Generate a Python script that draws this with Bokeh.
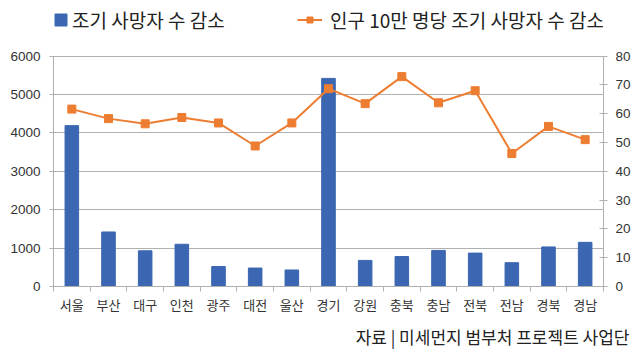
from bokeh.plotting import figure
from bokeh.models import (Range1d, LinearAxis, FixedTicker, Legend, LegendItem, Title, ColumnDataSource)
from bokeh.embed import file_html
from bokeh.resources import INLINE

regions = ["서울", "부산", "대구", "인천", "광주", "대전", "울산", "경기",
           "강원", "충북", "충남", "전북", "전남", "경북", "경남"]
early_death_reduction = [4190, 1420, 930, 1100, 520, 480, 430, 5420,
                         680, 780, 940, 870, 620, 1030, 1150]
per_100k_reduction = [61.6, 58.3, 56.5, 58.7, 56.8, 48.8, 56.8, 68.7,
                      63.5, 72.9, 63.8, 68.0, 46.2, 55.6, 51.0]
left_ticks = [0, 1000, 2000, 3000, 4000, 5000, 6000]
right_ticks = [0, 10, 20, 30, 40, 50, 60, 70, 80]
bar_label = "조기 사망자 수 감소"
line_label = "인구 10만 명당 조기 사망자 수 감소"
source_text = "자료 | 미세먼지 범부처 프로젝트 사업단"

n = len(regions)
centers = [i + 0.5 for i in range(n)]
src = ColumnDataSource(dict(x=centers, region=regions,
                            deaths=early_death_reduction, rate=per_100k_reduction))

BLUE = "#3a66b2"
ORANGE = "#ed7d31"
GRID = "#b0b0b0"
TEXT = "#333333"
KFONT = "Noto Sans CJK KR"
NFONT = "Liberation Sans"

# frame spans y=4..288 px; the value axes occupy the lower 232 px (top of axes at y=56)
TOP_PAD, BOTTOM_PAD = 4, 65
FRAME_H = 353 - TOP_PAD - BOTTOM_PAD
AXIS_H = 232
left_end = left_ticks[-1] * FRAME_H / AXIS_H
right_end = right_ticks[-1] * FRAME_H / AXIS_H

p = figure(width=640, height=353, output_backend="svg", toolbar_location=None,
           x_range=Range1d(0, n), y_range=Range1d(left_ticks[0], left_end),
           min_border_left=53, min_border_right=37,
           min_border_top=TOP_PAD, min_border_bottom=BOTTOM_PAD)
p.outline_line_color = None
p.background_fill_color = "white"
p.border_fill_color = "white"
p.extra_y_ranges = {"rate": Range1d(right_ticks[0], right_end)}

bars = p.vbar(x="x", top="deaths", width=0.37, source=src, color=BLUE)
line = p.line(x="x", y="rate", source=src, color=ORANGE, line_width=2, y_range_name="rate")
marks = p.scatter(x="x", y="rate", source=src, marker="square", size=8,
                  color=ORANGE, y_range_name="rate")

# x axis: labels at centers, ticks at category boundaries
xa = p.xaxis[0]
xa.ticker = FixedTicker(ticks=centers, minor_ticks=list(range(n + 1)))
xa.major_label_overrides = {c: r for c, r in zip(centers, regions)}
xa.major_tick_line_color = None
xa.minor_tick_line_color = GRID
xa.minor_tick_out = 5
xa.minor_tick_in = 0
xa.axis_line_color = GRID
xa.major_label_text_font = KFONT
xa.major_label_text_font_size = "13px"
xa.major_label_text_color = TEXT
xa.major_label_standoff = 2

ya = p.yaxis[0]
ya.ticker = FixedTicker(ticks=left_ticks)
ya.bounds = (left_ticks[0], left_ticks[-1])
ya.axis_line_color = GRID
ya.major_tick_line_color = GRID
ya.major_tick_out = 4
ya.major_tick_in = 4
ya.minor_tick_line_color = None
ya.major_label_text_font = NFONT
ya.major_label_text_font_size = "13.5px"
ya.major_label_text_color = TEXT
ya.major_label_standoff = 9

ra = LinearAxis(y_range_name="rate", ticker=FixedTicker(ticks=right_ticks))
ra.bounds = (right_ticks[0], right_ticks[-1])
ra.axis_line_color = GRID
ra.major_tick_line_color = GRID
ra.major_tick_out = 4
ra.major_tick_in = 4
ra.minor_tick_line_color = None
ra.major_label_text_font = NFONT
ra.major_label_text_font_size = "13.5px"
ra.major_label_text_color = TEXT
ra.major_label_standoff = 8
p.add_layout(ra, "right")

p.xgrid.grid_line_color = None
p.ygrid.grid_line_color = GRID
p.ygrid.ticker = FixedTicker(ticks=left_ticks)

common = dict(orientation="horizontal", label_height=20,
              label_text_font=KFONT, label_text_font_size="19px", label_text_color="#222222",
              border_line_color=None, background_fill_alpha=0, padding=0, margin=0)
leg1 = Legend(items=[LegendItem(label=bar_label, renderers=[bars])],
              location=(0, 253), glyph_width=15, glyph_height=15, label_standoff=4, **common)
leg2 = Legend(items=[LegendItem(label=line_label, renderers=[line, marks])],
              location=(244, 253), glyph_width=25, glyph_height=15, label_standoff=8, **common)
p.add_layout(leg1)
p.add_layout(leg2)

src_title = Title(text=source_text, align="right", offset=-26, standoff=10,
                  text_font=KFONT, text_font_size="17px", text_font_style="normal",
                  text_color="#222222")
p.add_layout(src_title, "below")

open("out.html", "w").write(file_html(p, INLINE))
